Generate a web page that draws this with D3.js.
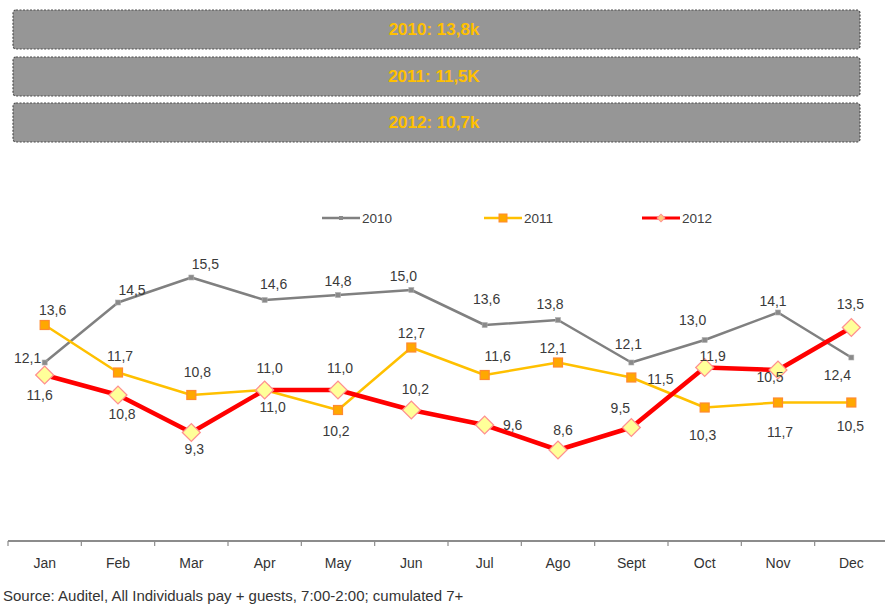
<!DOCTYPE html>
<html><head><meta charset="utf-8">
<script src="https://cdn.jsdelivr.net/npm/d3@7"></script>
<style>
body{margin:0;background:#fff;}
svg{display:block;}
</style></head>
<body><svg id="c" width="885" height="607"></svg>
<script>
const months = ["Jan","Feb","Mar","Apr","May","Jun","Jul","Ago","Sept","Oct","Nov","Dec"];
const seriesNames = ["2010","2011","2012"];
const values2010 = [12.1,14.5,15.5,14.6,14.8,15.0,13.6,13.8,12.1,13.0,14.1,12.3];
const values2011 = [13.6,11.7,10.8,11.0,10.2,12.7,11.6,12.1,11.5,10.3,10.5,10.5];
const values2012 = [11.6,10.8,9.3,11.0,11.0,10.2,9.6,8.6,9.5,11.9,11.8,13.5];
const labels2010 = ["12,1","14,5","15,5","14,6","14,8","15,0","13,6","13,8","12,1","13,0","14,1","12,4"];
const labels2011 = ["13,6","11,7","10,8","11,0","10,2","12,7","11,6","12,1","11,5","10,3","11,7","10,5"];
const labels2012 = ["11,6","10,8","9,3","11,0","11,0","10,2","9,6","8,6","9,5","11,9","10,5","13,5"];
const headerTexts = ["2010: 13,8k","2011: 11,5K","2012: 10,7k"];
const sourceText = "Source: Auditel, All Individuals pay + guests, 7:00-2:00; cumulated 7+";

// label placement offsets (layout only)
const off2010 = [[-17,-5],[14,-13],[14,-14],[9,-16],[0,-14],[-8,-14],[2,-26],[-8,-16],[-3,-19],[-12,-20],[-5,-12],[-14,17]];
const off2011 = [[8,-15],[2,-17],[6,-23],[8,17],[-2,21],[0,-15],[13,-19],[-5,-15],[29,1],[-2,27],[2,29],[-1,23]];
const off2012 = [[-5,20],[4,19],[3,16],[5,-22],[2,-22],[4,-21],[28,0],[5,-20],[-11,-20],[8,-12],[-8,7],[-1,-24]];

const FONT = "'Liberation Sans',Arial,sans-serif";
const svg = d3.select("#c");

// header boxes
const boxY = [10,57,103];
headerTexts.forEach((t,i)=>{
  svg.append("rect").attr("x",13).attr("y",boxY[i]).attr("width",847).attr("height",39)
    .attr("rx",3).attr("fill","#969696").attr("stroke","#4d4d4d").attr("stroke-width",1.2)
    .attr("stroke-dasharray","2,1.5");
  svg.append("text").attr("x",434).attr("y",boxY[i]+25).attr("text-anchor","middle")
    .attr("font-family",FONT).attr("font-weight","bold").attr("font-size",17)
    .attr("fill","#FFC000").text(t);
});

const x = d3.scaleBand().domain(months).range([8,888]);
const y = d3.scaleLinear().domain([5,17]).range([540,240]);
const cx = m => x(m)+x.bandwidth()/2;

// axis
const axisG = svg.append("g").attr("transform","translate(0,541)");
axisG.append("line").attr("x1",8).attr("x2",885).attr("stroke","#8c8c8c").attr("stroke-width",2);
months.forEach(m=>{
  axisG.append("line").attr("x1",x(m)).attr("x2",x(m)).attr("y1",0).attr("y2",5)
    .attr("stroke","#8c8c8c").attr("stroke-width",1.2);
  axisG.append("text").attr("x",cx(m)).attr("y",27).attr("text-anchor","middle")
    .attr("font-family",FONT).attr("font-size",14).attr("fill","#333").text(m);
});

const styles = [
  {vals:values2010, labels:labels2010, off:off2010, color:"#808080", width:2.5, marker:"tiny"},
  {vals:values2011, labels:labels2011, off:off2011, color:"#FFC000", width:2.5, marker:"square"},
  {vals:values2012, labels:labels2012, off:off2012, color:"#FF0000", width:4.5, marker:"diamond"}
];
const line = d3.line().x((d,i)=>cx(months[i])).y(d=>y(d));

function drawMarker(g, type, px, py){
  if(type==="tiny"){
    g.append("rect").attr("x",px-2.5).attr("y",py-2.5).attr("width",5).attr("height",5)
      .attr("fill","#8a8a8a").attr("stroke","#b0b0b0").attr("stroke-width",0.6);
  } else if(type==="square"){
    g.append("rect").attr("x",px-4.5).attr("y",py-4.5).attr("width",9).attr("height",9)
      .attr("fill","#FFA800").attr("stroke","#FF8A30").attr("stroke-width",1.2);
  } else {
    g.append("path").attr("d",d3.symbol().type(d3.symbolSquare).size(160)())
      .attr("transform",`translate(${px},${py}) rotate(45)`)
      .attr("fill","#FFFF99").attr("stroke","#FF9090").attr("stroke-width",1.3);
  }
}

styles.forEach(s=>{
  svg.append("path").datum(s.vals).attr("d",line).attr("fill","none")
    .attr("stroke",s.color).attr("stroke-width",s.width).attr("stroke-linejoin","round");
});
styles.forEach(s=>{
  const g = svg.append("g");
  s.vals.forEach((v,i)=>drawMarker(g,s.marker,cx(months[i]),y(v)));
});
styles.forEach(s=>{
  s.vals.forEach((v,i)=>{
    svg.append("text").attr("x",cx(months[i])+s.off[i][0]).attr("y",y(v)+s.off[i][1]+5)
      .attr("text-anchor","middle").attr("font-family",FONT).attr("font-size",14)
      .attr("fill","#3a3a3a").text(s.labels[i]);
  });
});

// legend
const legX = [322,484,642];
seriesNames.forEach((n,i)=>{
  const s = styles[i];
  const g = svg.append("g");
  g.append("line").attr("x1",legX[i]).attr("x2",legX[i]+38).attr("y1",218).attr("y2",218)
    .attr("stroke",s.color).attr("stroke-width",i===2?3:2.5);
  if(i===0){
    g.append("rect").attr("x",legX[i]+17).attr("y",216).attr("width",4).attr("height",4).attr("fill","#8a8a8a");
  } else if(i===1){
    g.append("rect").attr("x",legX[i]+15).attr("y",214).attr("width",8).attr("height",8)
      .attr("fill","#FFA800").attr("stroke","#FF8A30");
  } else {
    g.append("path").attr("d",d3.symbol().type(d3.symbolSquare).size(30)())
      .attr("transform",`translate(${legX[i]+19},218) rotate(45)`)
      .attr("fill","#FFCC80").attr("stroke","#FF9090");
  }
  g.append("text").attr("x",legX[i]+40).attr("y",223).attr("font-family",FONT)
    .attr("font-size",13.5).attr("fill","#404040").text(n);
});

svg.append("text").attr("x",3).attr("y",601).attr("font-family",FONT).attr("font-size",15)
  .attr("fill","#333").text(sourceText);
</script></body></html>
